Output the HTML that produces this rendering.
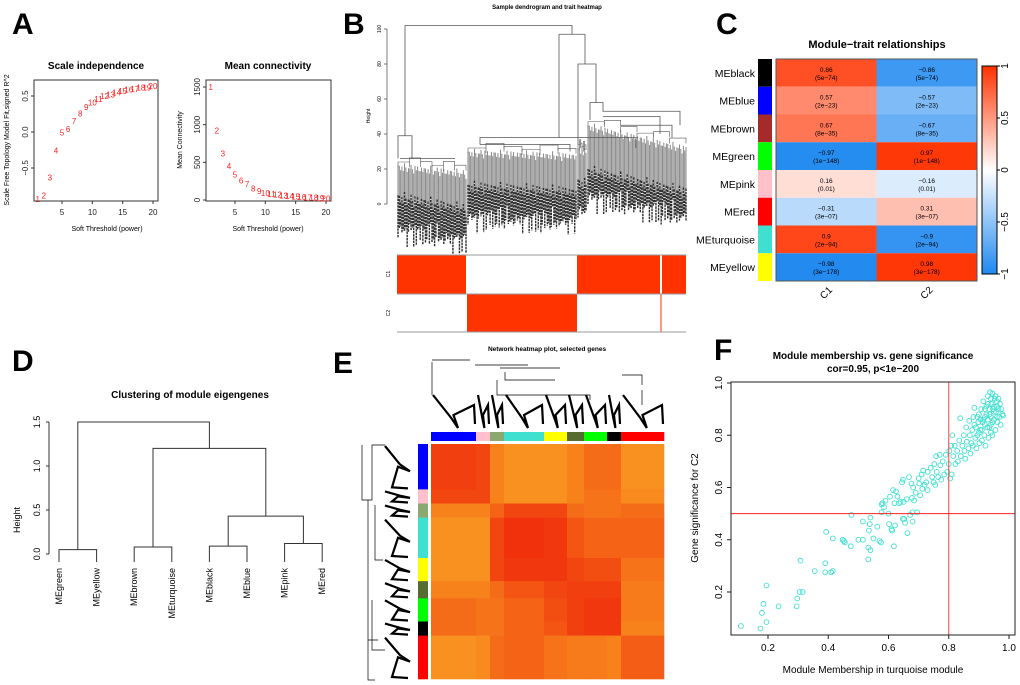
<!DOCTYPE html>
<html><head><meta charset="utf-8"><style>
html,body{margin:0;padding:0;background:#fff}
svg{display:block;font-family:"Liberation Sans",Arial,sans-serif}
.pl{font-size:30px;font-weight:bold}
.tt{font-size:10px;font-weight:bold}
.tk{font-size:8px;fill:#222}
</style></head><body>
<svg id="s" width="1020" height="685" viewBox="0 0 1020 685">
<text class="pl" x="12" y="34">A</text>
<text class="pl" x="343" y="34">B</text>
<text class="pl" x="716" y="34">C</text>
<text class="pl" x="12" y="371">D</text>
<text class="pl" x="333" y="373">E</text>
<text class="pl" x="714" y="360">F</text>
</svg>
<script>
// ---------- data ----------
const powers=[1,2,3,4,5,6,7,8,9,10,11,12,13,14,15,16,17,18,19,20];
const r2Values=[-0.93,-0.88,-0.63,-0.26,-0.01,0.04,0.15,0.26,0.35,0.41,0.46,0.50,0.52,0.55,0.57,0.59,0.60,0.62,0.62,0.64];
const meanConn=[1500,920,620,450,340,260,210,150,120,95,80,70,60,50,45,40,35,30,25,22];
const modules=["MEblack","MEblue","MEbrown","MEgreen","MEpink","MEred","MEturquoise","MEyellow"];
const moduleColors=["#000000","#0000ff","#a52a2a","#00ff00","#ffc0cb","#ff0000","#40e0d0","#ffff00"];
const traits=["C1","C2"];
const corC1=[0.86,0.57,0.67,-0.97,0.16,-0.31,0.9,-0.98];
const pC1=["5e−74","2e−23","8e−35","1e−148","0.01","3e−07","2e−94","3e−178"];
const corC2=[-0.86,-0.57,-0.67,0.97,-0.16,0.31,-0.9,0.98];
const pC2=["5e−74","2e−23","8e−35","1e−148","0.01","3e−07","2e−94","3e−178"];
const dLeaves=["MEgreen","MEyellow","MEbrown","MEturquoise","MEblack","MEblue","MEpink","MEred"];
const dMerges=[[-1,-2,0.05],[-3,-4,0.08],[-5,-6,0.09],[-7,-8,0.12],[3,4,0.43],[2,5,1.2],[1,6,1.5]];
const eModules=["blue","pink","mixA","turquoise","yellow","mixB","green","black","red"];
const eSizes=[45,14,14,40,23,17,23,14,43];
const eSim=[
[0.85,0.8,0.4,0.3,0.3,0.4,0.55,0.55,0.3],
[0.8,0.8,0.4,0.3,0.3,0.4,0.5,0.5,0.35],
[0.4,0.4,0.6,0.8,0.8,0.55,0.5,0.5,0.55],
[0.3,0.3,0.8,0.95,0.9,0.7,0.6,0.6,0.6],
[0.3,0.3,0.8,0.9,0.9,0.8,0.75,0.75,0.5],
[0.4,0.4,0.55,0.7,0.8,0.85,0.85,0.85,0.45],
[0.55,0.5,0.5,0.6,0.75,0.85,0.9,0.9,0.45],
[0.55,0.5,0.5,0.6,0.7,0.85,0.9,0.9,0.4],
[0.3,0.35,0.55,0.6,0.5,0.45,0.45,0.4,0.65]];
const mmValues=[0.11,0.175,0.18,0.185,0.195,0.195,0.235,0.295,0.297,0.305,0.308,0.315,0.355,0.39,0.39,0.393,0.41,0.415,0.415,0.448,0.452,0.455,0.475,0.477,0.5,0.515,0.515,0.533,0.533,0.535,0.538,0.54,0.54,0.55,0.563,0.57,0.575,0.577,0.577,0.58,0.585,0.59,0.6,0.602,0.605,0.61,0.612,0.615,0.618,0.62,0.622,0.625,0.63,0.635,0.64,0.645,0.648,0.648,0.65,0.652,0.655,0.66,0.663,0.668,0.672,0.676,0.678,0.68,0.68,0.682,0.685,0.69,0.695,0.7,0.702,0.705,0.71,0.712,0.715,0.72,0.725,0.73,0.73,0.74,0.745,0.75,0.752,0.755,0.758,0.76,0.765,0.77,0.772,0.775,0.78,0.785,0.79,0.795,0.8,0.802,0.805,0.808,0.81,0.812,0.815,0.82,0.822,0.828,0.83,0.835,0.838,0.84,0.845,0.85,0.852,0.855,0.858,0.86,0.865,0.868,0.87,0.872,0.875,0.878,0.88,0.882,0.885,0.888,0.89,0.892,0.895,0.898,0.9,0.902,0.905,0.908,0.91,0.912,0.915,0.918,0.92,0.922,0.925,0.928,0.93,0.932,0.935,0.937,0.94,0.942,0.945,0.947,0.95,0.952,0.955,0.957,0.96,0.962,0.965,0.968,0.97,0.972,0.975,0.978,0.98,0.92,0.93,0.94,0.95,0.96,0.91,0.9,0.925,0.935,0.945,0.955,0.965,0.915,0.94,0.93,0.95,0.96,0.905,0.895,0.885,0.92,0.94,0.945,0.935];
const gsValues=[0.07,0.06,0.12,0.155,0.085,0.225,0.145,0.145,0.175,0.2,0.32,0.2,0.28,0.275,0.31,0.43,0.275,0.28,0.405,0.4,0.395,0.39,0.375,0.495,0.4,0.4,0.47,0.325,0.37,0.435,0.46,0.485,0.36,0.405,0.45,0.395,0.39,0.505,0.535,0.54,0.525,0.55,0.5,0.46,0.565,0.44,0.435,0.59,0.375,0.54,0.455,0.585,0.565,0.54,0.545,0.62,0.48,0.63,0.545,0.48,0.465,0.555,0.425,0.64,0.495,0.615,0.56,0.505,0.47,0.6,0.55,0.58,0.505,0.635,0.615,0.57,0.65,0.595,0.665,0.61,0.62,0.59,0.66,0.675,0.64,0.62,0.69,0.61,0.72,0.66,0.64,0.725,0.685,0.63,0.7,0.65,0.725,0.66,0.69,0.74,0.635,0.76,0.65,0.8,0.72,0.76,0.69,0.74,0.7,0.78,0.865,0.72,0.76,0.8,0.74,0.71,0.83,0.775,0.75,0.855,0.8,0.73,0.77,0.82,0.76,0.87,0.905,0.79,0.83,0.75,0.8,0.85,0.88,0.77,0.82,0.9,0.78,0.85,0.93,0.8,0.87,0.76,0.91,0.83,0.95,0.79,0.88,0.965,0.84,0.92,0.8,0.9,0.86,0.94,0.82,0.89,0.93,0.85,0.9,0.87,0.92,0.84,0.9,0.88,0.875,0.84,0.86,0.87,0.89,0.91,0.82,0.81,0.88,0.9,0.85,0.95,0.94,0.86,0.81,0.92,0.91,0.87,0.86,0.87,0.84,0.9,0.94,0.96,0.83];
// B dendrogram clusters: [firstLeafX, lastLeafX, leafTopHeightStart, leafTopHeightEnd, leafBottomHeightStart, leafBottomHeightEnd, labelDepthPx]
const bClusters=[[398,466,22,18,5,-2,42],[468,576,30,28,11,8,40],[578,586,32,30,14,12,38],[588,686,45,32,20,8,35]];
const bC1=[[397,466],[577,660],[662,686]];
const bC2=[[467,577],[660.5,661.5]];

// ---------- helpers ----------
const S=document.getElementById('s');const NS='http://www.w3.org/2000/svg';
function mk(t,a,txt){const e=document.createElementNS(NS,t);for(const k in a)e.setAttribute(k,a[k]);if(txt!==undefined)e.textContent=txt;S.appendChild(e);return e;}
function lin(d0,d1,r0,r1){return v=>r0+(v-d0)*(r1-r0)/(d1-d0);}

// ---------- A left ----------
(function(){
 const x=lin(5,20,62,153),y=lin(0,0.5,132,96);
 let e=mk('rect',{x:34,y:80,width:124,height:121,fill:'none',stroke:'#333','stroke-width':1});
 
 e=mk('text',{x:96,y:69,'text-anchor':'middle',class:'tt'},'Scale independence');
 
 [5,10,15,20].forEach(v=>{mk('line',{x1:x(v),x2:x(v),y1:201,y2:204,stroke:'#333'});mk('text',{x:x(v),y:215,'text-anchor':'middle',class:'tk'},String(v));});
 [-0.5,0,0.5].forEach(v=>{mk('line',{x1:31,x2:34,y1:y(v),y2:y(v),stroke:'#333'});mk('text',{x:28,y:y(v),'text-anchor':'middle',class:'tk',transform:`rotate(-90 28 ${y(v)})`},v===0?'0.0':(v<0?'−0.5':'0.5'));});
 e=mk('text',{x:107,y:231,'text-anchor':'middle',style:'font-size:7px'},'Soft Threshold (power)');
 
 e=mk('text',{x:9,y:140,'text-anchor':'middle',style:'font-size:7px',transform:'rotate(-90 9 140)'},'Scale Free Topology Model Fit,signed R^2');
 
 powers.forEach((p,i)=>{const t=mk('text',{x:x(p),y:y(r2Values[i])+3,'text-anchor':'middle',fill:'#ff2020',style:'font-size:8px'},String(p));
  });
})();
// ---------- A right ----------
(function(){
 const x=lin(5,20,235,326),y=lin(0,1500,200,87);
 let e=mk('rect',{x:206,y:80,width:125,height:121,fill:'none',stroke:'#333'});
 
 e=mk('text',{x:268,y:69,'text-anchor':'middle',class:'tt'},'Mean connectivity');
 
 [5,10,15,20].forEach(v=>{mk('line',{x1:x(v),x2:x(v),y1:201,y2:204,stroke:'#333'});mk('text',{x:x(v),y:215,'text-anchor':'middle',class:'tk'},String(v));});
 [0,500,1000,1500].forEach(v=>{mk('line',{x1:203,x2:206,y1:y(v),y2:y(v),stroke:'#333'});mk('text',{x:200,y:y(v),'text-anchor':'middle',class:'tk',transform:`rotate(-90 200 ${y(v)})`},String(v));});
 e=mk('text',{x:268,y:231,'text-anchor':'middle',style:'font-size:7px'},'Soft Threshold (power)');
 
 e=mk('text',{x:182,y:140,'text-anchor':'middle',style:'font-size:7px',transform:'rotate(-90 182 140)'},'Mean Connectivity');
 
 powers.forEach((p,i)=>{const t=mk('text',{x:x(p),y:y(meanConn[i])+3,'text-anchor':'middle',fill:'#ff2020',style:'font-size:8px'},String(p));
  });
})();
// ---------- B ----------
(function(){
 const y=lin(0,100,204,29);
 let e=mk('text',{x:547,y:9,'text-anchor':'middle',style:'font-size:6px;font-weight:bold'},'Sample dendrogram and trait heatmap');
 
 mk('line',{x1:387,x2:387,y1:y(0),y2:y(100),stroke:'#444','stroke-width':0.7});
 [0,20,40,60,80,100].forEach(v=>{mk('line',{x1:384,x2:387,y1:y(v),y2:y(v),stroke:'#444','stroke-width':0.7});mk('text',{x:381,y:y(v),'text-anchor':'middle',style:'font-size:5px',transform:`rotate(-90 381 ${y(v)})`},String(v));});
 mk('text',{x:370,y:116,'text-anchor':'middle',style:'font-size:5px',transform:'rotate(-90 370 116)'},'Height');
 bClusters.forEach((c,ci)=>{
  const [x0,x1,ht0,ht1,hb0,hb1,dp]=c;const n=Math.round((x1-x0)/1.3);
  for(let i=0;i<=n;i++){const f=i/n,xx=x0+(x1-x0)*f;const wig=((i*7)%5)*1.6-((i*3)%4);
   const top=y(ht0+(ht1-ht0)*f)+wig;const bot=y(hb0+(hb1-hb0)*f)+wig*1.5;
   mk('line',{x1:xx,x2:xx,y1:top,y2:bot,stroke:'#8a8a8a','stroke-width':1});
   mk('line',{x1:xx,x2:xx,y1:bot,y2:bot+dp-((i*3)%7)*3,stroke:'#2e2e2e','stroke-width':1.4,'stroke-dasharray':'2.5 0.8'});}
  // small branches over leaves
  for(let k=0;k<6;k++){const f0=k/6,f1=(k+1)/6;const hh=ht0+(ht1-ht0)*f0+2+((k*5)%3)*1.5;
   mk('path',{d:`M${x0+(x1-x0)*f0} ${y(hh-3)}V${y(hh)}H${x0+(x1-x0)*f1}V${y(hh-3)}`,stroke:'#555','stroke-width':0.6,fill:'none'});}
 });
 const P=(d)=>{const p=mk('path',{d:d,stroke:'#555','stroke-width':0.8,fill:'none'});};
 P(`M405 ${y(39)}V${y(102)}H572V${y(97)}`);
 P(`M398 ${y(26)}V${y(39)}H412V${y(26)}`);P(`M400 ${y(26)}H440M412 ${y(26)}H455`);
 P(`M559 ${y(97)}H585`);P(`M559 ${y(97)}V${y(38)}H480V${y(34)}`);P(`M559 ${y(38)}H636V${y(32)}`);P(`M480 ${y(34)}H570V${y(30)}`);
 P(`M585 ${y(97)}V${y(80)}H578V${y(34)}`);P(`M585 ${y(80)}H596V${y(58)}H590V${y(48)}`);P(`M596 ${y(58)}H603V${y(53)}H680V${y(45)}`);P(`M603 ${y(50)}H660V${y(40)}`);P(`M620 ${y(45)}H672V${y(38)}`);
 mk('rect',{x:397,y:255,width:289,height:77,fill:'#fff',stroke:'none'});
 bC1.forEach(r=>{const q=mk('rect',{x:r[0],y:255,width:r[1]-r[0],height:39,fill:'#ff3300'});});
 bC2.forEach(r=>{const q=mk('rect',{x:r[0],y:294,width:r[1]-r[0],height:38,fill:'#ff3300'});});
 [255,294,332].forEach(yy=>mk('line',{x1:397,x2:686,y1:yy,y2:yy,stroke:'#999','stroke-width':1}));
 mk('text',{x:390,y:274,'text-anchor':'middle',style:'font-size:5px',transform:'rotate(-90 390 274)'},'C1');
 mk('text',{x:390,y:313,'text-anchor':'middle',style:'font-size:5px',transform:'rotate(-90 390 313)'},'C2');
})();
// ---------- C ----------
(function(){
 const x0=776,x1=977,y0=59,y1=281,rh=(y1-y0)/8,cw=(x1-x0)/2;
 function col(v){const a=Math.abs(v);const c=v>0?[255,50,0]:[30,136,240];return `rgb(${Math.round(255+(c[0]-255)*a)},${Math.round(255+(c[1]-255)*a)},${Math.round(255+(c[2]-255)*a)})`;}
 let e=mk('text',{x:877,y:48,'text-anchor':'middle',style:'font-size:11px;font-weight:bold'},'Module−trait relationships');
 
 modules.forEach((m,i)=>{const yy=y0+i*rh;
  let s=mk('rect',{x:758,y:yy,width:14,height:rh,fill:moduleColors[i]});
  let l=mk('text',{x:755,y:yy+rh/2+4,'text-anchor':'end',style:'font-size:10.5px'},m);
  [[corC1,pC1],[corC2,pC2]].forEach((arr,j)=>{const v=arr[0][i];
   let c=mk('rect',{x:x0+j*cw,y:yy,width:cw,height:rh,fill:col(v)});
   mk('text',{x:x0+j*cw+cw/2,y:yy+rh/2-1,'text-anchor':'middle',style:'font-size:6.5px'},String(v).replace('-','−'));
   mk('text',{x:x0+j*cw+cw/2,y:yy+rh/2+7,'text-anchor':'middle',style:'font-size:6.5px'},'('+arr[1][i]+')');});
 });
 mk('rect',{x:x0,y:y0,width:x1-x0,height:y1-y0,fill:'none',stroke:'#555','stroke-width':1});
 traits.forEach((t,j)=>{const cx=x0+j*cw+cw/2;mk('text',{x:cx,y:296,'text-anchor':'middle',style:'font-size:10px',transform:`rotate(-45 ${cx} 293)`},t);});
 const d=mk('defs',{});d.innerHTML='<linearGradient id="cbg" x1="0" y1="0" x2="0" y2="1"><stop offset="0" stop-color="#ff3200"/><stop offset="0.5" stop-color="#ffffff"/><stop offset="1" stop-color="#1e88f0"/></linearGradient>';
 const cb=mk('rect',{x:982,y:66,width:15,height:208,fill:'url(#cbg)',stroke:'#000','stroke-width':1});
 
 const cy=lin(1,-1,66,274);
 [1,0.5,0,-0.5,-1].forEach(v=>{mk('line',{x1:997,x2:1000,y1:cy(v),y2:cy(v),stroke:'#000'});mk('text',{x:1008,y:cy(v),'text-anchor':'middle',style:'font-size:10px',transform:`rotate(-90 1008 ${cy(v)})`},String(v).replace('-','−'));});
})();
// ---------- D ----------
(function(){
 const y=lin(0,1.5,554,422),lx=i=>59+i*37.6;
 let e=mk('text',{x:190,y:398,'text-anchor':'middle',style:'font-size:10px;font-weight:bold'},'Clustering of module eigengenes');
 
 mk('line',{x1:49,x2:49,y1:y(0),y2:y(1.5),stroke:'#333'});
 [0,0.5,1,1.5].forEach(v=>{mk('line',{x1:46,x2:49,y1:y(v),y2:y(v),stroke:'#333'});mk('text',{x:40,y:y(v),'text-anchor':'middle',style:'font-size:9px',transform:`rotate(-90 40 ${y(v)})`},v.toFixed(1));});
 mk('text',{x:20,y:520,'text-anchor':'middle',style:'font-size:9px',transform:'rotate(-90 20 520)'},'Height');
 const nodes=[];
 function pos(k){return k<0?{x:lx(-k-1),h:null}:nodes[k-1];}
 dMerges.forEach(m=>{const a=pos(m[0]),b=pos(m[1]),h=m[2];
  const ya=a.h===null?y(0)+8:y(a.h),yb=b.h===null?y(0)+8:y(b.h);
  const p=mk('path',{d:`M${a.x} ${ya}V${y(h)}H${b.x}V${yb}`,stroke:'#333',fill:'none','stroke-width':1});
  
  nodes.push({x:(a.x+b.x)/2,h:h});});
 dLeaves.forEach((l,i)=>{const t=mk('text',{x:lx(i)+3,y:568,'text-anchor':'end',style:'font-size:9px',transform:`rotate(-90 ${lx(i)+3} 568)`},l);
  });
})();
// ---------- E ----------
(function(){
 const hx0=431,hx1=664,hy0=444,hy1=679;const tot=eSizes.reduce((a,b)=>a+b,0);
 const eCol={blue:'#0000ff',pink:'#ffc0cb',mixA:'#8aa870',turquoise:'#40e0d0',yellow:'#ffff00',mixB:'#556b2f',green:'#00ff00',black:'#000000',red:'#ff0000'};
 let e=mk('text',{x:547,y:351,'text-anchor':'middle',style:'font-size:6.5px;font-weight:bold'},'Network heatmap plot, selected genes');
 
 function heat(s){const a=s;return `rgb(${Math.round(252-(252-240)*a)},${Math.round(190-(190-40)*a)},${Math.round(40-(40-10)*a)})`;}
 let cx=0;const xs=[];
 eSizes.forEach(s=>{xs.push(cx);cx+=s;});
 eModules.forEach((mi,i)=>{
  const xa=hx0+(hx1-hx0)*xs[i]/tot,wa=(hx1-hx0)*eSizes[i]/tot;
  const ya=hy0+(hy1-hy0)*xs[i]/tot,ha=(hy1-hy0)*eSizes[i]/tot;
  let t=mk('rect',{x:xa,y:432,width:wa+0.3,height:9,fill:eCol[mi]});
  let l=mk('rect',{x:418,y:ya,width:10,height:ha+0.3,fill:eCol[mi]});
  eModules.forEach((mj,j)=>{const xb=hx0+(hx1-hx0)*xs[j]/tot,wb=(hx1-hx0)*eSizes[j]/tot;
   const c=mk('rect',{x:xb,y:ya,width:wb+0.3,height:ha+0.3,fill:heat(eSim[i][j])});});
 });
 const g=(d,w)=>{const p=mk('path',{d:d,stroke:'#000',fill:'none','stroke-width':w||0.7});};
 g('M432 360H470M432 362V395M475 365H528M500 368H560M505 372V380H555M497 380V395H590V400M622 375H642V385M642 390V405');
 xs.forEach((s,i)=>{const xa=hx0+(hx1-hx0)*s/tot,wa=(hx1-hx0)*eSizes[i]/tot;
  const p=mk('path',{d:`M${xa+2} 395L${xa+wa*0.45} 418L${xa+wa*0.6} 428L${xa+wa*0.5} 415L${xa+wa-2} 405L${xa+wa-1} 424`,stroke:'#000',fill:'none','stroke-width':2.2});
  
  const ya=hy0+(hy1-hy0)*s/tot,ha=(hy1-hy0)*eSizes[i]/tot;
  const q=mk('path',{d:`M385 ${ya+2}L400 ${ya+ha*0.45}L410 ${ya+ha*0.6}L398 ${ya+ha*0.5}L392 ${ya+ha-2}L408 ${ya+ha-1}`,stroke:'#000',fill:'none','stroke-width':2.2});
  });
 g('M362 445V500H372V445H385M368 500V680H375M375 505V560H383M372 600V650H385M368 640H378');
})();
// ---------- F ----------
(function(){
 const x=lin(0.2,1,768,1009),y=lin(0.2,1,592,383);
 let e=mk('text',{x:873,y:359,'text-anchor':'middle',style:'font-size:10px;font-weight:bold'},'Module membership vs. gene significance');
 
 mk('text',{x:873,y:372,'text-anchor':'middle',style:'font-size:10px;font-weight:bold'},'cor=0.95, p<1e−200');
 mmValues.forEach((v,i)=>{const c=mk('circle',{cx:x(v),cy:y(gsValues[i]),r:2.4,fill:'none',stroke:'#40e0d0','stroke-width':0.9});
  });
 mk('line',{x1:x(0.8),x2:x(0.8),y1:382,y2:635,stroke:'#ff4040','stroke-width':1});
 mk('line',{x1:731,x2:1015,y1:y(0.5),y2:y(0.5),stroke:'#ff2020','stroke-width':1});
 const b=mk('rect',{x:731,y:382,width:284,height:253,fill:'none',stroke:'#222','stroke-width':1});
 
 [0.2,0.4,0.6,0.8,1].forEach(v=>{mk('line',{x1:x(v),x2:x(v),y1:635,y2:639,stroke:'#222'});mk('text',{x:x(v),y:651,'text-anchor':'middle',style:'font-size:10px'},v.toFixed(1));
  mk('line',{x1:727,x2:731,y1:y(v),y2:y(v),stroke:'#222'});mk('text',{x:722,y:y(v),'text-anchor':'middle',style:'font-size:10px',transform:`rotate(-90 722 ${y(v)})`},v.toFixed(1));});
 e=mk('text',{x:873,y:673,'text-anchor':'middle',style:'font-size:10px'},'Module Membership in turquoise module');
 
 e=mk('text',{x:698,y:508,'text-anchor':'middle',style:'font-size:10px',transform:'rotate(-90 698 508)'},'Gene significance for  C2');
 
})();
</script>
</body></html>
